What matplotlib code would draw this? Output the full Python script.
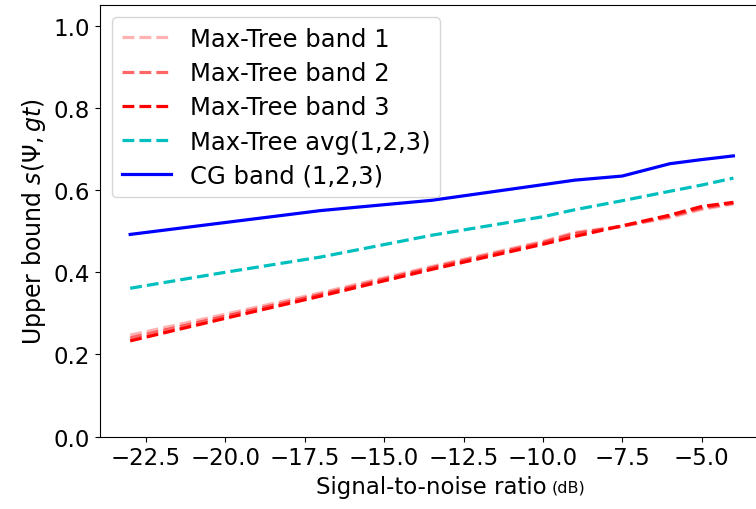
import numpy as np
import matplotlib
matplotlib.use("Agg")
import matplotlib.pyplot as plt

# values
snr = [-23, -20, -17, -13.5, -10, -9, -7.5, -6, -5, -4]
band1 = [0.247, 0.298, 0.350, 0.414, 0.475, 0.497, 0.512, 0.533, 0.553, 0.566]
band2 = [0.240, 0.293, 0.346, 0.411, 0.472, 0.494, 0.512, 0.536, 0.556, 0.568]
band3 = [0.233, 0.288, 0.342, 0.407, 0.468, 0.487, 0.513, 0.539, 0.560, 0.570]
avg = [0.361, 0.400, 0.437, 0.490, 0.535, 0.552, 0.574, 0.597, 0.612, 0.629]
cg = [0.492, 0.521, 0.550, 0.575, 0.613, 0.624, 0.634, 0.664, 0.674, 0.683]

plt.rcParams['font.size'] = 16.5

fig = plt.figure(figsize=(7.56, 5.10), dpi=100)
ax = fig.add_axes([0.1323, 0.1418, 0.8777, 0.8464])

lw = 2.3
ax.plot(snr, band1, '--', color='r', alpha=0.3, lw=lw, label='Max-Tree band 1')
ax.plot(snr, band2, '--', color='r', alpha=0.6, lw=lw, label='Max-Tree band 2')
ax.plot(snr, band3, '--', color='r', lw=lw, label='Max-Tree band 3')
ax.plot(snr, avg, '--', color='c', lw=lw, label='Max-Tree avg(1,2,3)')
ax.plot(snr, cg, '-', color='b', lw=lw, label='CG band (1,2,3)')

ax.set_ylim(0, 1.05)
xl = ax.set_xlabel('Signal-to-noise ratio')
ax.set_ylabel(r'Upper bound $s(\Psi, gt)$', fontsize=17)
ax.legend(loc='upper left', fontsize=17.5, labelspacing=0.42)

# small "(dB)" unit right after the x label
fig.canvas.draw()
bb = xl.get_window_extent().transformed(fig.transFigure.inverted())
fig.text(bb.x1 + 0.006, bb.y0 + 0.012, '(dB)', fontsize=11.5, ha='left', va='baseline')

fig.savefig('out.png', dpi=100)
